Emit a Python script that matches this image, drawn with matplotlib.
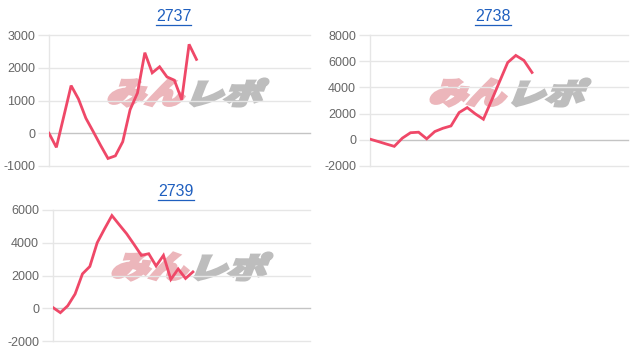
import matplotlib
matplotlib.use("Agg")
import matplotlib.pyplot as plt
from matplotlib.textpath import TextPath
from matplotlib.font_manager import FontProperties
from matplotlib.patches import PathPatch
from matplotlib.transforms import Affine2D, IdentityTransform
from matplotlib.lines import Line2D

plt.rcParams['font.family'] = ['Liberation Sans', 'DejaVu Sans']

# ---- data ----
titles = ["2737", "2738", "2739"]
values_2737 = [0, -430, 510, 1455, 1045, 460, 50, -370, -770, -690, -260, 720,
               1230, 2460, 1845, 2030, 1720, 1620, 1025, 2715, 2255]
values_2738 = [50, -130, -320, -500, 130, 540, 580, 75, 630, 880, 1060, 2080,
               2460, 1980, 1570, 3000, 4450, 5900, 6440, 6060, 5140]
values_2739 = [40, -270, 150, 870, 2100, 2550, 4000, 4850, 5660, 5100, 4550,
               3900, 3230, 3330, 2580, 3230, 1760, 2400, 1820, 2220]
yticks_2737 = [-1000, 0, 1000, 2000, 3000]
yticks_2738 = [-2000, 0, 2000, 4000, 6000, 8000]
yticks_2739 = [-2000, 0, 2000, 4000, 6000]

W, H = 638, 354
fig = plt.figure(figsize=(W / 100, H / 100), dpi=100)
fig.patch.set_facecolor('white')

LINE = '#ef4868'
GRID = '#e6e6e6'
ZERO = '#c4c4c4'


def px_axes(left, right, top, bottom):
    return fig.add_axes([left / W, 1 - bottom / H, (right - left) / W, (bottom - top) / H])


fp_logo = FontProperties(family='Noto Sans CJK JP', weight='black')


def wordmark(text, color, x0, x1, ytop, ybot):
    tp = TextPath((0, 0), text, size=100, prop=fp_logo)
    path = Affine2D().skew_deg(16, 0).transform_path(tp)
    ext = path.get_extents()
    sx = (x1 - x0 - 2) / ext.width
    sy = (ybot - ytop - 2) / ext.height
    tr = Affine2D().translate(-ext.x0, -ext.y0).scale(sx, sy).translate(x0 + 1, H - ybot + 1)
    p = PathPatch(tr.transform_path(path), facecolor=color, edgecolor=color,
                  lw=2.2, joinstyle='miter',
                  transform=IdentityTransform(), zorder=-5)
    fig.add_artist(p)


def panel(vals, yticks, rect, xmax, title, tx, ty, logo_x):
    ax = px_axes(*rect)
    ax.set_facecolor('none')
    x = list(range(len(vals)))
    ax.set_xlim(0, xmax)
    ax.set_ylim(yticks[0], yticks[-1])
    for yt in yticks:
        ax.axhline(yt, color=ZERO if yt == 0 else GRID, lw=1, zorder=1, clip_on=False)
    ax.plot(x, vals, color=LINE, lw=2.0, solid_joinstyle='miter', zorder=3)
    ax.set_yticks(yticks)
    ax.set_yticklabels([str(t) for t in yticks])
    ax.set_xticks([])
    for s in ['top', 'right', 'bottom']:
        ax.spines[s].set_visible(False)
    ax.spines['left'].set_color(GRID)
    ax.spines['left'].set_linewidth(1)
    ax.tick_params(axis='y', length=8, width=1, color=GRID, pad=2,
                   labelsize=9, labelcolor='#666666')
    t = fig.text(tx / W, 1 - ty / H, title, ha='center', va='baseline',
                 fontsize=11.5, color='#1f5fbf')
    lx, ly = logo_x
    wordmark("みん", '#ecb6bb', lx, lx + 77, ly, ly + 29)
    wordmark("レポ", '#bdbdbd', lx + 82, lx + 161, ly, ly + 29)
    return t


titles_art = []
titles_art.append(panel(values_2737, yticks_2737, (49, 310, 35, 166), 35.4,
                        titles[0], 173.5, 21, (108, 78)))
titles_art.append(panel(values_2738, yticks_2738, (370, 628, 35, 166), 31.85,
                        titles[1], 493, 21, (430, 78)))
titles_art.append(panel(values_2739, yticks_2739, (53, 310, 210, 341), 34.9,
                        titles[2], 176, 196, (112, 252)))

fig.canvas.draw()
r = fig.canvas.get_renderer()
for t in titles_art:
    bb = t.get_window_extent(r)
    yb = bb.y0 - 0.5
    fig.add_artist(Line2D([bb.x0, bb.x1], [yb, yb], color='#1f5fbf', lw=0.9,
                          transform=IdentityTransform()))

fig.savefig('out.png', dpi=100, facecolor='white')
